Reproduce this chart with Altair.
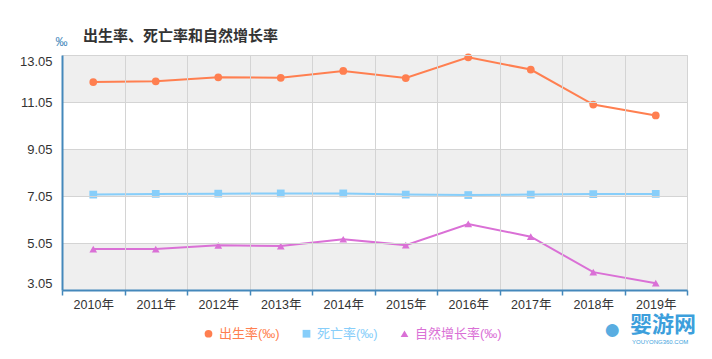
import altair as alt
import pandas as pd

years = ["2010年", "2011年", "2012年", "2013年", "2014年", "2015年", "2016年", "2017年", "2018年", "2019年"]
birth = [11.90, 11.93, 12.10, 12.08, 12.37, 12.07, 12.95, 12.43, 10.94, 10.48]
death = [7.11, 7.14, 7.15, 7.16, 7.16, 7.11, 7.09, 7.11, 7.13, 7.14]
natural = [4.79, 4.79, 4.95, 4.92, 5.21, 4.96, 5.86, 5.32, 3.81, 3.34]

series_names = ["出生率(‰)", "死亡率(‰)", "自然增长率(‰)"]
series_colors = ["#ff7f50", "#87cefa", "#da70d6"]
series_shapes = ["circle", "square", "triangle-up"]

y_ticks = [3.05, 5.05, 7.05, 9.05, 11.05, 13.05]
band_lo = [3.05, 7.05, 11.05]
band_hi = [5.05, 9.05, 13.05]

rows = []
for name, vals in zip(series_names, [birth, death, natural]):
    for y, v in zip(years, vals):
        rows.append({"year": y, "series": name, "value": v})
df = pd.DataFrame(rows)
bands = pd.DataFrame({"lo": band_lo, "hi": band_hi})

FONT = "Liberation Sans, Noto Sans CJK SC, sans-serif"
AXIS_BLUE = "#4488bb"
GRID = "#d4d4d4"

yscale = alt.Scale(domain=[3.05, 13.05], nice=False, zero=False)
xscale = alt.Scale(paddingInner=0, paddingOuter=0)

x_enc = alt.X(
    "year:N", sort=years, scale=xscale,
    axis=alt.Axis(
        title=None, tickBand="extent", labelAngle=0, zindex=1,
        grid=True, gridColor=GRID, domainColor=AXIS_BLUE, domainWidth=2,
        tickColor=AXIS_BLUE, tickSize=5, tickWidth=1.5, labelPadding=3,
        labelFontSize=12.5, labelColor="#333", labelFont=FONT,
    ),
)
y_enc = alt.Y(
    "value:Q", scale=yscale,
    axis=alt.Axis(
        values=y_ticks, format=".2f", grid=True, gridColor=GRID, zindex=1,
        ticks=False, tickSize=0, domainColor=AXIS_BLUE, domainWidth=2,
        labelFlush=True, labelFontSize=13, labelPadding=10, labelColor="#333",
        labelFont=FONT,
        title="‰", titleAngle=0, titleX=-1, titleY=-14, titleAlign="center",
        titleBaseline="middle", titleColor=AXIS_BLUE, titleFontSize=12,
        titleFontWeight="normal",
    ),
)

color_scale = alt.Scale(domain=series_names, range=series_colors)
shape_scale = alt.Scale(domain=series_names, range=series_shapes)

legend = alt.Legend(
    title=None, orient="none", legendX=140, legendY=272, direction="horizontal",
    labelFontSize=13, labelFont=FONT, columnPadding=20, symbolSize=60,
    symbolStrokeWidth=0,
    labelColor={"expr": "datum.label == '出生率(‰)' ? '#ff7f50' : (datum.label == '死亡率(‰)' ? '#87cefa' : '#da70d6')"},
)

band_layer = alt.Chart(bands).mark_rect(color="#efefef").encode(
    y=alt.Y("lo:Q", scale=yscale), y2="hi:Q"
)

line_layer = alt.Chart(df).mark_line(strokeWidth=2).encode(
    x=x_enc, y=y_enc,
    color=alt.Color("series:N", scale=color_scale, legend=legend),
    detail="series:N",
)

point_layer = alt.Chart(df).mark_point(filled=True, opacity=1, size=60).encode(
    x=x_enc, y=y_enc,
    color=alt.Color("series:N", scale=color_scale, legend=legend),
    shape=alt.Shape("series:N", scale=shape_scale, legend=legend),
)

wm1 = alt.Chart(pd.DataFrame({"t": ["婴游网"]})).mark_text(
    fontSize=22, fontWeight="bold", color="#3d9fdc", align="left", font=FONT
).encode(text="t:N", x=alt.value(568), y=alt.value(270))
wm2 = alt.Chart(pd.DataFrame({"t": ["YOUYONG360.COM"]})).mark_text(
    fontSize=6, color="#3d9fdc", align="left", font=FONT
).encode(text="t:N", x=alt.value(570), y=alt.value(287))
wm3 = alt.Chart(pd.DataFrame({"t": ["●"]})).mark_text(
    fontSize=30, color="#3d9fdc", align="center", font=FONT, opacity=0.85
).encode(text="t:N", x=alt.value(550), y=alt.value(275))

chart = alt.layer(band_layer, line_layer, point_layer, wm3, wm1, wm2).properties(
    width=625, height=235,
    autosize=alt.AutoSizeParams(type="none"),
    padding={"left": 54, "top": 47, "right": 17, "bottom": 61},
    title=alt.TitleParams(
        "出生率、死亡率和自然增长率", anchor="start", frame="group", dx=21,
        fontSize=15, fontWeight="bold", color="#333", offset=-9, font=FONT,
    ),
).configure_view(stroke="#cccccc").configure(font=FONT)

chart.save("out.html", embed_options={"renderer": "svg", "actions": False})
